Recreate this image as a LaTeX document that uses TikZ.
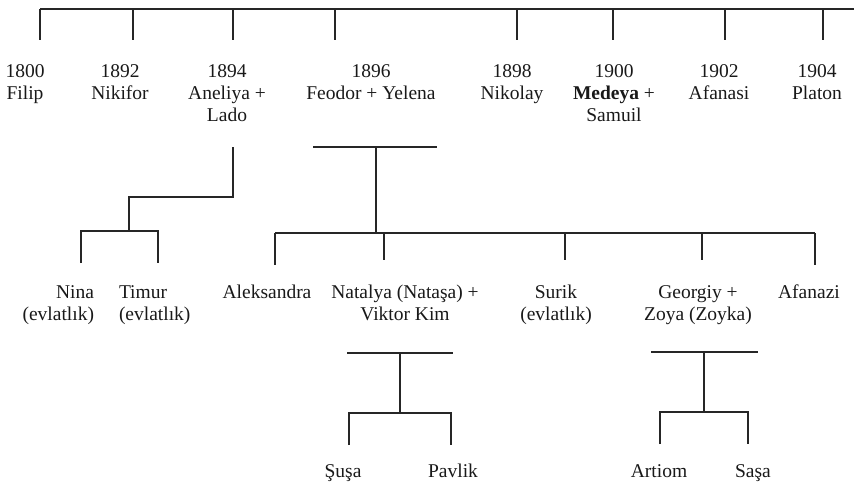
\documentclass[tikz,border=0pt]{standalone}
\usepackage{fontspec}
\setmainfont{Liberation Serif}
\begin{document}
\begin{tikzpicture}[x=1pt,y=-1pt,
  lbl/.style={inner sep=0pt, outer sep=0pt, font=\fontsize{19.5}{22}\selectfont, text=black!90},
  ln/.style={draw=black!85, line width=1.1pt}]
\useasboundingbox (0,0) rectangle (854,485);
\newcommand{\txtC}[1]{\begin{tabular}[t]{@{}c@{}}#1\end{tabular}}
\newcommand{\txtR}[1]{\begin{tabular}[t]{@{}r@{}}#1\end{tabular}}
\newcommand{\txtL}[1]{\begin{tabular}[t]{@{}l@{}}#1\end{tabular}}
\renewcommand{\arraystretch}{1}
% top generation
\node[lbl, anchor=base] (filip) at (25,77) {\txtC{1800\\Filip}};
\node[lbl, anchor=base] (nikifor) at (120,77) {\txtC{1892\\Nikifor}};
\node[lbl, anchor=base] (aneliya) at (227,77) {\txtC{1894\\Aneliya +\\Lado}};
\node[lbl, anchor=base] (feodor) at (371,77) {\txtC{1896\\Feodor + Yelena}};
\node[lbl, anchor=base] (nikolay) at (512,77) {\txtC{1898\\Nikolay}};
\node[lbl, anchor=base] (medeya) at (614,77) {\txtC{1900\\\textbf{Medeya} +\\Samuil}};
\node[lbl, anchor=base] (afanasi) at (719,77) {\txtC{1902\\Afanasi}};
\node[lbl, anchor=base] (platon) at (817,77) {\txtC{1904\\Platon}};
% top bar
\coordinate (tL) at (40,9);
\coordinate (tR) at (854,9);
\draw[ln] (tL) -- (tR);
\foreach \x/\n in {40/filip,133/nikifor,233/aneliya,335/feodor,517/nikolay,613/medeya,725/afanasi,823/platon}{
  \coordinate (t\n) at (\x,9);
  \coordinate (b\n) at (\x,40);
  \draw[ln] (t\n) -- (b\n);
}
% Aneliya branch
\coordinate (a1) at (233,147);
\coordinate (a2) at (233,197);
\coordinate (a3) at (129,197);
\coordinate (a4) at (129,231);
\coordinate (a5) at (81,231);
\coordinate (a6) at (158,231);
\coordinate (a7) at (81,263);
\coordinate (a8) at (158,263);
\draw[ln] (a1) -- (a2) -- (a3) -- (a4);
\draw[ln] (a7) -- (a5) -- (a6) -- (a8);
\node[lbl, anchor=base east] (nina) at (94,298) {\txtR{Nina\\(evlatlık)}};
\node[lbl, anchor=base west] (timur) at (119,298) {\txtL{Timur\\(evlatlık)}};
% Feodor branch
\coordinate (f1) at (313,147);
\coordinate (f2) at (437,147);
\coordinate (f3) at (376,147);
\coordinate (f4) at (376,233);
\coordinate (fL) at (275,233);
\coordinate (fR) at (815,233);
\draw[ln] (f1) -- (f2);
\draw[ln] (f3) -- (f4);
\draw[ln] (fL) -- (fR);
\foreach \x/\y/\n in {275/265/aleks,384/260/natalya,565/260/surik,702/260/georgiy,815/265/afanazi}{
  \coordinate (c\n) at (\x,233);
  \coordinate (d\n) at (\x,\y);
  \draw[ln] (c\n) -- (d\n);
}
\node[lbl, anchor=base] (aleks) at (267,298) {\txtC{Aleksandra}};
\node[lbl, anchor=base] (natalya) at (405,298) {\txtC{Natalya (Nataşa) +\\Viktor Kim}};
\node[lbl, anchor=base] (surik) at (556,298) {\txtC{Surik\\(evlatlık)}};
\node[lbl, anchor=base] (georgiy) at (698,298) {\txtC{Georgiy +\\Zoya (Zoyka)}};
\node[lbl, anchor=base] (afanazi) at (809,298) {\txtC{Afanazi}};
% Natalya branch
\coordinate (n1) at (347,353);
\coordinate (n2) at (453,353);
\coordinate (n3) at (400,353);
\coordinate (n4) at (400,413);
\coordinate (n5) at (349,413);
\coordinate (n6) at (451,413);
\coordinate (n7) at (349,445);
\coordinate (n8) at (451,445);
\draw[ln] (n1) -- (n2);
\draw[ln] (n3) -- (n4);
\draw[ln] (n7) -- (n5) -- (n6) -- (n8);
\node[lbl, anchor=base] (susa) at (343,477) {Şuşa};
\node[lbl, anchor=base] (pavlik) at (453,477) {Pavlik};
% Georgiy branch
\coordinate (g1) at (651,352);
\coordinate (g2) at (758,352);
\coordinate (g3) at (704,352);
\coordinate (g4) at (704,412);
\coordinate (g5) at (660,412);
\coordinate (g6) at (748,412);
\coordinate (g7) at (660,444);
\coordinate (g8) at (748,444);
\draw[ln] (g1) -- (g2);
\draw[ln] (g3) -- (g4);
\draw[ln] (g7) -- (g5) -- (g6) -- (g8);
\node[lbl, anchor=base] (artiom) at (659,477) {Artiom};
\node[lbl, anchor=base] (sasa) at (753,477) {Saşa};
\end{tikzpicture}
\end{document}
